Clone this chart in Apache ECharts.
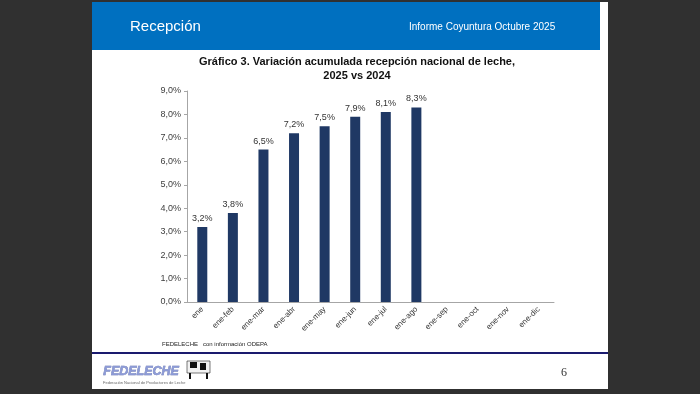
<!DOCTYPE html>
<html><head><meta charset="utf-8">
<script src="https://cdn.jsdelivr.net/npm/echarts@6/dist/echarts.min.js"></script>
<style>html,body{margin:0;padding:0;background:#303030;}#c{width:700px;height:394px;}</style>
</head><body><div id="c"></div>
<script>
const categories = ['ene','ene-feb','ene-mar','ene-abr','ene-may','ene-jun','ene-jul','ene-ago','ene-sep','ene-oct','ene-nov','ene-dic'];
const values = [3.2, 3.8, 6.5, 7.2, 7.5, 7.9, 8.1, 8.3, null, null, null, null];
const yTicks = [0,1,2,3,4,5,6,7,8,9];
const titleLines = ['Gráfico 3. Variación acumulada recepción nacional de leche,', '2025 vs 2024'];
const headerLeft = 'Recepción';
const headerRight = 'Informe Coyuntura Octubre 2025';
const sourceText = 'FEDELECHE   con información ODEPA';
const pageNum = '6';

const fmt = v => v.toFixed(1).replace('.', ',') + '%';
const chart = echarts.init(document.getElementById('c'), null, {renderer:'canvas'});
const font = 'Arial, "Liberation Sans", sans-serif';
chart.setOption({
  backgroundColor: '#303030',
  animation: false,
  graphic: [
    {type:'rect', shape:{x:92,y:2,width:516,height:387}, style:{fill:'#ffffff'}, z:-10},
    {type:'rect', shape:{x:92,y:2,width:508,height:48}, style:{fill:'#0070c0'}, z:-9},
    {type:'text', left:130, top:19, style:{text:headerLeft, fill:'#ffffff', font:'15px '+font}},
    {type:'text', left:409, top:22, style:{text:headerRight, fill:'#ffffff', font:'10px '+font}},
    {type:'text', x:357, y:56, style:{text:titleLines[0], fill:'#111', font:'bold 11px '+font, textAlign:'center'}},
    {type:'text', x:357, y:70, style:{text:titleLines[1], fill:'#111', font:'bold 11px '+font, textAlign:'center'}},
    {type:'text', left:162, top:341, style:{text:sourceText, fill:'#222', font:'6px '+font}},
    {type:'rect', shape:{x:92,y:352,width:516,height:2}, style:{fill:'#1a1a6e'}},
    {type:'text', left:103, top:365, style:{text:'FEDELECHE', fill:'#8c9ad6', stroke:'#4a5aa0', lineWidth:0.5, font:'italic bold 12.5px '+font}},
    {type:'rect', shape:{x:187,y:361,width:23,height:12}, style:{fill:'#f2f2f2', stroke:'#222', lineWidth:0.6}},
    {type:'rect', shape:{x:190,y:362,width:7,height:6}, style:{fill:'#111'}},
    {type:'rect', shape:{x:200,y:363,width:6,height:7}, style:{fill:'#111'}},
    {type:'rect', shape:{x:189,y:373,width:2,height:6}, style:{fill:'#111'}},
    {type:'rect', shape:{x:206,y:373,width:2,height:6}, style:{fill:'#111'}},
    {type:'text', left:103, top:381, style:{text:'Federación Nacional de Productores de Leche', fill:'#666', font:'4px '+font}},
    {type:'text', left:561, top:367, style:{text:pageNum, fill:'#333', font:'12px "Liberation Serif", "DejaVu Serif", serif'}}
  ],
  grid: {left:187, right:146, top:91, bottom:92, containLabel:false},
  xAxis: {
    type:'category', data:categories,
    axisLine:{lineStyle:{color:'#a6a6a6', width:1}},
    axisTick:{show:false},
    axisLabel:{rotate:45, fontSize:8, color:'#333', fontFamily:font, margin:6, interval:0}
  },
  yAxis: {
    type:'value', min:0, max:9, interval:1,
    axisLine:{show:true, lineStyle:{color:'#a6a6a6'}},
    axisTick:{show:true, length:3, lineStyle:{color:'#a6a6a6'}},
    splitLine:{show:false},
    axisLabel:{formatter: v => fmt(v), fontSize:9, color:'#404040', fontFamily:font, margin:6}
  },
  series: [{
    type:'bar', data:values, barWidth:10,
    itemStyle:{color:'#1f3864'},
    label:{show:true, position:'top', distance:4, fontSize:9, color:'#333', fontFamily:font, formatter: p => fmt(p.value)}
  }]
});
</script></body></html>
